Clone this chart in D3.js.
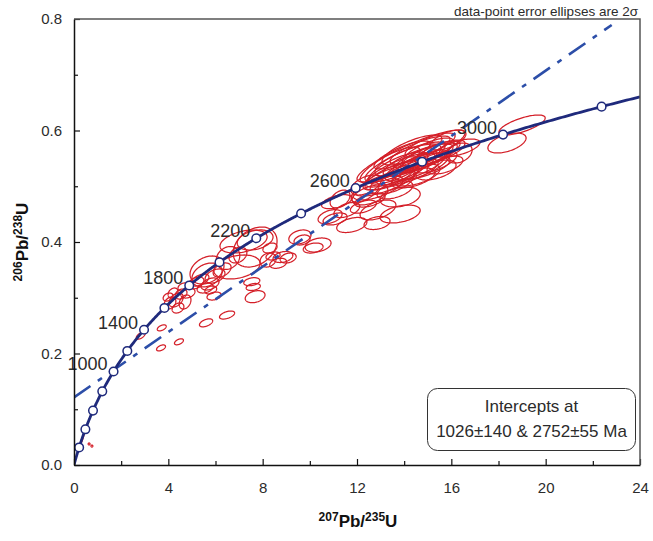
<!DOCTYPE html>
<html>
<head>
<meta charset="utf-8">
<script src="https://cdn.jsdelivr.net/npm/d3@7"></script>
<style>
  html, body { margin: 0; padding: 0; background: #fff; }
  svg { display: block; font-family: "Liberation Sans", Arial, sans-serif; }
</style>
</head>
<body>
<svg id="chart" width="653" height="541"></svg>
<script>
// U-Pb concordia diagram with 2-sigma error ellipses and a discordia chord

// Decay constants (per Ma)
const lambda238 = 1.55125e-4;
const lambda235 = 9.8485e-4;

// Concordia age markers (Ma) and the ones carrying a label
const markerAges = [200, 400, 600, 800, 1000, 1200, 1400, 1600, 1800, 2000, 2200, 2400, 2600, 2800, 3000, 3200];
const labeledAges = [1000, 1400, 1800, 2200, 2600, 3000];

// Discordia intercept ages (Ma) and its drawn extent in 207Pb/235U
const interceptAges = [1026, 2752];
const discordiaExtent = [0, 22.8];

// Axis ticks
const xTicks = [0, 4, 8, 12, 16, 20, 24];
const xMinor = [2, 6, 10, 14, 18, 22];
const yTicks = [0, 0.2, 0.4, 0.6, 0.8];
const yMinor = [0.1, 0.3, 0.5, 0.7];

// Analyses: 207Pb/235U, 206Pb/238U, 2-sigma errors and error correlation
const ellX = [
  0.38, 0.28, 0.64, 0.76,
  2.83, 3.72, 3.69, 4.45, 5.60, 6.49,
  4.07, 4.33, 4.41, 4.54, 4.20, 4.71, 4.62, 3.99, 4.83,
  5.34, 5.64, 5.77, 5.17, 5.98, 5.56, 6.28, 5.80, 5.94, 6.53, 5.64,
  7.68, 7.19, 7.68, 6.91, 8.23, 6.95,
  8.66, 8.44, 8.86, 8.31, 9.58, 9.67, 10.35, 10.14, 9.08, 7.54, 7.68, 7.60,
  11.14, 10.86, 11.78, 11.57, 12.27, 12.55, 11.07,
  12.89, 13.83, 12.85, 12.34, 11.28,
  14.29, 14.04, 14.59, 14.89, 13.83, 14.46, 13.61, 15.10, 14.25, 14.67,
  13.32, 15.31, 13.91, 15.52, 14.89, 13.83, 12.89, 13.19, 15.73, 16.28,
  16.33, 18.36, 19.00, 12.55, 13.40, 14.38, 12.38, 15.10, 15.86, 13.61,
  14.16, 14.76, 13.74, 15.01, 14.33, 14.50, 13.49, 15.35
];
const ellY = [
  0.0502, 0.0395, 0.0377, 0.034,
  0.232, 0.246, 0.210, 0.221, 0.255, 0.269,
  0.2906, 0.296, 0.2816, 0.3067, 0.3085, 0.2924, 0.3193, 0.3013, 0.3085,
  0.3318, 0.3408, 0.3247, 0.3265, 0.339, 0.3175, 0.3498, 0.3139, 0.3031, 0.3713, 0.3498,
  0.391, 0.4009, 0.4036, 0.3552, 0.3677, 0.3767,
  0.3618, 0.3749, 0.3731, 0.3892, 0.409, 0.4036, 0.3946, 0.3892, 0.3713, 0.3288, 0.3019, 0.3193,
  0.4723, 0.4454, 0.4305, 0.4574, 0.4633, 0.4753, 0.4413,
  0.4574, 0.4502, 0.4341, 0.4897, 0.4771,
  0.5543, 0.5435, 0.5471, 0.5507, 0.5291, 0.5345, 0.5202, 0.5561, 0.5256, 0.5650,
  0.5148, 0.5435, 0.5561, 0.5614, 0.5327, 0.4807, 0.4969, 0.5058, 0.5381, 0.5686,
  0.5596, 0.5776, 0.6099, 0.4843, 0.5381, 0.5148, 0.5022, 0.5740, 0.5830, 0.4933,
  0.5471, 0.5381, 0.5327, 0.5614, 0.5650, 0.5202, 0.5076, 0.5291
];
const ellSX = [
  0.064, 0.05, 0.04, 0.04,
  0.19, 0.19, 0.19, 0.19, 0.28, 0.32,
  0.25, 0.30, 0.25, 0.25, 0.21, 0.25, 0.21, 0.21, 0.30,
  0.38, 0.64, 0.38, 0.34, 0.42, 0.34, 0.38, 0.25, 0.30, 0.50, 0.72,
  0.93, 1.00, 0.76, 0.98, 0.34, 0.38,
  0.36, 0.30, 0.42, 0.30, 0.47, 0.34, 0.55, 0.42, 0.34, 0.34, 0.42, 0.30,
  0.64, 0.51, 0.64, 0.55, 0.55, 0.64, 0.51,
  0.76, 0.85, 0.55, 0.59, 0.42,
  2.29, 1.70, 1.48, 1.36, 1.48, 1.27, 1.27, 1.27, 1.19, 1.27,
  1.06, 0.93, 1.19, 1.06, 1.06, 0.85, 1.06, 1.27, 0.76, 0.93,
  0.55, 0.81, 0.98, 0.76, 1.27, 0.93, 0.64, 1.06, 0.76, 0.76,
  1.40, 1.19, 1.27, 1.10, 1.27, 1.02, 0.93, 0.85
];
const ellSY = [
  0.009, 0.007, 0.0018, 0.0018,
  0.0063, 0.0054, 0.0054, 0.0054, 0.0072, 0.0072,
  0.0108, 0.0126, 0.009, 0.009, 0.009, 0.0126, 0.0072, 0.0072, 0.009,
  0.0108, 0.0215, 0.0108, 0.0108, 0.0126, 0.009, 0.0126, 0.0072, 0.0072, 0.0206, 0.0251,
  0.0359, 0.0206, 0.018, 0.0215, 0.0126, 0.0143,
  0.009, 0.0072, 0.0099, 0.009, 0.0126, 0.009, 0.0126, 0.009, 0.009, 0.0072, 0.0108, 0.0063,
  0.0126, 0.0126, 0.0135, 0.0135, 0.0117, 0.0126, 0.0108,
  0.0179, 0.0161, 0.0117, 0.018, 0.016,
  0.0466, 0.0359, 0.0287, 0.0269, 0.0305, 0.0251, 0.0269, 0.0251, 0.0233, 0.0251,
  0.0215, 0.0197, 0.0251, 0.0215, 0.0197, 0.0179, 0.0215, 0.0233, 0.0161, 0.0161,
  0.0179, 0.0179, 0.0179, 0.0179, 0.0323, 0.0179, 0.0179, 0.0215, 0.0179, 0.0161,
  0.0287, 0.0269, 0.0287, 0.0251, 0.0269, 0.0197, 0.0215, 0.0179
];
const ellRho = [
  0.95, 0.95, 0, 0,
  0.6, 0.5, 0.5, 0.5, 0.5, 0.5,
  0.3, 0.4, 0.3, 0.3, 0.3, 0.3, 0.3, 0.3, 0.3,
  0.5, 0.3, 0.4, 0.4, 0.4, 0.3, 0.4, 0.3, 0.3, 0.2, 0.3,
  0.3, 0.4, 0.3, 0.3, 0.2, 0.3,
  0.3, 0.3, 0.3, 0.3, 0.3, 0.3, 0.3, 0.3, 0.3, 0.3, 0.3, 0.3,
  0.5, 0.4, 0.4, 0.5, 0.5, 0.5, 0.4,
  0.5, 0.4, 0.3, 0.6, 0.4,
  0.88, 0.82, 0.8, 0.78, 0.8, 0.75, 0.75, 0.8, 0.72, 0.8,
  0.72, 0.65, 0.8, 0.72, 0.7, 0.3, 0.65, 0.75, 0.55, 0.6,
  0.3, 0.5, 0.7, 0.5, 0.8, 0.55, 0.5, 0.75, 0.6, 0.5,
  0.75, 0.7, 0.75, 0.72, 0.75, 0.55, 0.55, 0.5
];

const noteText = "data-point error ellipses are 2\u03c3";
const interceptLines = ["Intercepts at", "1026\u00b1140 & 2752\u00b155 Ma"];

const colors = {
  concordia: "#1f2a7c",
  discordia: "#2c4ea8",
  ellipse: "#d41f28",
  text: "#2b2b2b"
};

const svg = d3.select("#chart");
const margin = { left: 74, right: 13, top: 19, bottom: 76 };
const W = 653, H = 541;
const x = d3.scaleLinear().domain([0, 24]).range([margin.left, W - margin.right]);
const y = d3.scaleLinear().domain([0, 0.8]).range([H - margin.bottom, margin.top]);

svg.append("defs").append("clipPath").attr("id", "plotClip")
  .append("rect")
  .attr("x", x(0)).attr("y", y(0.8))
  .attr("width", x(24) - x(0)).attr("height", y(0) - y(0.8));

const concordiaX = t => Math.exp(lambda235 * t) - 1;
const concordiaY = t => Math.exp(lambda238 * t) - 1;

// Error ellipses
const plot = svg.append("g").attr("clip-path", "url(#plotClip)");
const thetas = d3.range(0, 96).map(i => i * 2 * Math.PI / 96);
const ellipseLine = d3.line().curve(d3.curveLinearClosed);

plot.append("g").selectAll("path")
  .data(ellX.map((v, i) => i))
  .join("path")
  .attr("d", i => {
    const cx = x(ellX[i]), cy = y(ellY[i]);
    const a = x(ellX[i] + ellSX[i]) - cx;
    const b = cy - y(ellY[i] + ellSY[i]);
    const r = ellRho[i], s = Math.sqrt(1 - r * r);
    return ellipseLine(thetas.map(t => [
      cx + a * Math.cos(t),
      cy - b * (r * Math.cos(t) + s * Math.sin(t))
    ]));
  })
  .attr("fill", "none")
  .attr("stroke", colors.ellipse)
  .attr("stroke-width", 1.25);

// Discordia chord through the two intercepts
const p1 = [concordiaX(interceptAges[0]), concordiaY(interceptAges[0])];
const p2 = [concordiaX(interceptAges[1]), concordiaY(interceptAges[1])];
const slope = (p2[1] - p1[1]) / (p2[0] - p1[0]);
const chordAt = v => p1[1] + slope * (v - p1[0]);
plot.append("path")
  .attr("d", d3.line()(discordiaExtent.map(v => [x(v), y(chordAt(v))])))
  .attr("fill", "none")
  .attr("stroke", colors.discordia)
  .attr("stroke-width", 2.6)
  .attr("stroke-dasharray", "20,9,5,9");

// Concordia curve
const tMax = Math.log(25) / lambda235;
const tSamples = d3.range(0, tMax, 5).concat([tMax]);
plot.append("path")
  .attr("d", d3.line()(tSamples.map(t => [x(concordiaX(t)), y(concordiaY(t))])))
  .attr("fill", "none")
  .attr("stroke", colors.concordia)
  .attr("stroke-width", 2.8);

// Age markers
svg.append("g").selectAll("circle")
  .data(markerAges)
  .join("circle")
  .attr("cx", t => x(concordiaX(t)))
  .attr("cy", t => y(concordiaY(t)))
  .attr("r", 4.3)
  .attr("fill", "#fff")
  .attr("stroke", colors.concordia)
  .attr("stroke-width", 1.5);

svg.append("g").selectAll("text")
  .data(labeledAges)
  .join("text")
  .attr("x", t => x(concordiaX(t)) - 6)
  .attr("y", t => y(concordiaY(t)) - 1)
  .attr("text-anchor", "end")
  .attr("font-size", 18)
  .attr("fill", colors.text)
  .text(t => t);

// Axes
const axisStyle = g => {
  g.select(".domain").attr("stroke", "#111").attr("stroke-width", 1.5);
  g.selectAll(".tick line").attr("stroke", "#111").attr("stroke-width", 1.2);
  g.selectAll(".tick text").attr("font-size", 15).attr("fill", colors.text)
    .attr("font-family", "'Liberation Sans', Arial, sans-serif");
};

svg.append("g").attr("transform", `translate(0,${y(0)})`)
  .call(d3.axisBottom(x).tickValues(xTicks).tickSizeInner(-6).tickSizeOuter(0).tickPadding(17).tickFormat(d3.format("d")))
  .call(axisStyle);
svg.append("g").attr("transform", `translate(0,${y(0)})`)
  .call(d3.axisBottom(x).tickValues(xMinor).tickSizeInner(-4).tickSizeOuter(0).tickFormat(""))
  .call(axisStyle)
  .call(g => g.select(".domain").remove());

svg.append("g").attr("transform", `translate(${x(0)},0)`)
  .call(d3.axisLeft(y).tickValues(yTicks).tickSizeInner(-6).tickSizeOuter(0).tickPadding(12).tickFormat(d3.format(".1f")))
  .call(axisStyle);
svg.append("g").attr("transform", `translate(${x(0)},0)`)
  .call(d3.axisLeft(y).tickValues(yMinor).tickSizeInner(-4).tickSizeOuter(0).tickFormat(""))
  .call(axisStyle)
  .call(g => g.select(".domain").remove());

// Top and right frame
svg.append("path")
  .attr("d", `M${x(0)},${y(0.8)}H${x(24)}V${y(0)}`)
  .attr("fill", "none")
  .attr("stroke", "#555")
  .attr("stroke-width", 1.5);

// Axis titles with isotope superscripts
function isotopeLabel(sel, massTop, massBottom) {
  sel.append("tspan").attr("font-size", 12).attr("dy", -6).text(massTop);
  sel.append("tspan").attr("font-size", 17).attr("dy", 6).text("Pb/");
  sel.append("tspan").attr("font-size", 12).attr("dy", -6).text(massBottom);
  sel.append("tspan").attr("font-size", 17).attr("dy", 6).text("U");
}

svg.append("text")
  .attr("x", 358).attr("y", 527)
  .attr("text-anchor", "middle")
  .attr("font-weight", "bold")
  .attr("fill", "#111")
  .call(isotopeLabel, "207", "235");

svg.append("text")
  .attr("transform", "translate(28,242) rotate(-90)")
  .attr("text-anchor", "middle")
  .attr("font-weight", "bold")
  .attr("fill", "#111")
  .call(isotopeLabel, "206", "238");

// Note above the frame
svg.append("text")
  .attr("x", x(24) - 2).attr("y", 16)
  .attr("text-anchor", "end")
  .attr("font-size", 13.5)
  .attr("fill", colors.text)
  .text(noteText);

// Intercepts box
const box = svg.append("g");
box.append("rect")
  .attr("x", 427.5).attr("y", 388.5)
  .attr("width", 208).attr("height", 62)
  .attr("rx", 10).attr("ry", 10)
  .attr("fill", "#fff")
  .attr("stroke", "#333")
  .attr("stroke-width", 1);
box.selectAll("text")
  .data(interceptLines)
  .join("text")
  .attr("x", 531.5)
  .attr("y", (d, i) => 412 + i * 25)
  .attr("text-anchor", "middle")
  .attr("font-size", 17)
  .attr("fill", colors.text)
  .text(d => d);
</script>
</body>
</html>
